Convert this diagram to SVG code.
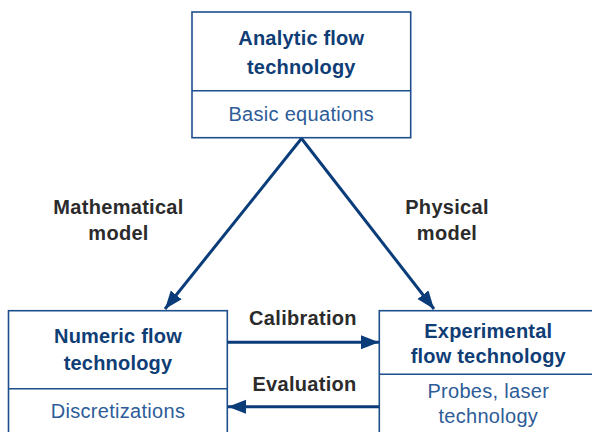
<svg xmlns="http://www.w3.org/2000/svg" width="592" height="432" viewBox="0 0 592 432">
<style>
.box{fill:#fff;stroke:#1d4f8c;stroke-width:1.6}
.div{stroke:#1d4f8c;stroke-width:1.4}
.t{font-family:"Liberation Sans",Arial,sans-serif;font-weight:bold;font-size:20px;fill:#0f3d75;text-anchor:middle;letter-spacing:0.2px}
.s{font-family:"Liberation Sans",Arial,sans-serif;font-size:20px;fill:#2d5c98;text-anchor:middle;letter-spacing:0.3px}
.l{font-family:"Liberation Sans",Arial,sans-serif;font-weight:bold;font-size:20px;fill:#2b2b2b;text-anchor:middle;letter-spacing:0.3px}
.c{stroke:#0b3c7a;stroke-width:3;fill:none}
.h{fill:#0b3c7a}
</style>
<defs>
<marker id="ah" markerUnits="userSpaceOnUse" markerWidth="20" markerHeight="16" refX="18" refY="7" orient="auto">
<path d="M0,0 L18,7 L0,14 Z" class="h"/>
</marker>
</defs>
<rect width="592" height="432" fill="#fff"/>
<g id="analytic">
<rect class="box" x="192" y="12" width="218.7" height="125.7"/>
<line class="div" x1="192" y1="90.7" x2="410.7" y2="90.7"/>
<text class="t" x="301.3" y="45">Analytic flow</text>
<text class="t" x="301.3" y="74">technology</text>
<text class="s" x="301.3" y="121">Basic equations</text>
</g>
<g id="numeric">
<rect class="box" x="8.5" y="310.7" width="218.8" height="135"/>
<line class="div" x1="8.5" y1="388.7" x2="227.3" y2="388.7"/>
<text class="t" x="118" y="343">Numeric flow</text>
<text class="t" x="118" y="370">technology</text>
<text class="s" x="118" y="417.5">Discretizations</text>
</g>
<g id="experimental">
<rect class="box" x="379.3" y="310.7" width="218" height="135"/>
<line class="div" x1="379.3" y1="374.3" x2="597.3" y2="374.3"/>
<text class="t" x="488.3" y="337.7">Experimental</text>
<text class="t" x="488.3" y="363.3">flow technology</text>
<text class="s" x="488.3" y="397.7">Probes, laser</text>
<text class="s" x="488.3" y="422.7">technology</text>
</g>
<g id="connectors">
<line class="c" x1="301.5" y1="138.5" x2="165" y2="309" marker-end="url(#ah)"/>
<line class="c" x1="301.5" y1="138.5" x2="434" y2="309" marker-end="url(#ah)"/>
<line class="c" x1="227.3" y1="342.3" x2="379" y2="342.3" marker-end="url(#ah)"/>
<line class="c" x1="379.3" y1="406.7" x2="228" y2="406.7" marker-end="url(#ah)"/>
</g>
<g id="labels">
<text class="l" x="118.5" y="214">Mathematical</text>
<text class="l" x="118.5" y="240">model</text>
<text class="l" x="447" y="214">Physical</text>
<text class="l" x="447" y="240">model</text>
<text class="l" x="303" y="325">Calibration</text>
<text class="l" x="304.5" y="390.7">Evaluation</text>
</g>
</svg>
